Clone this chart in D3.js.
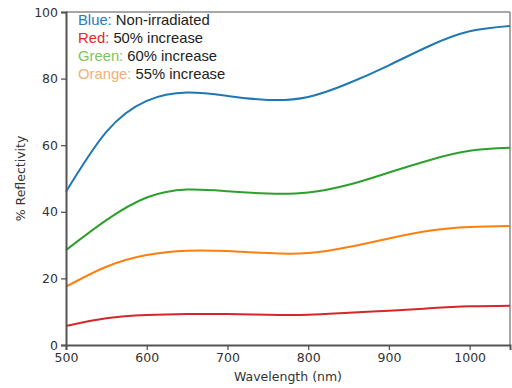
<!DOCTYPE html>
<html>
<head>
<meta charset="utf-8">
<script src="https://cdn.jsdelivr.net/npm/d3@7"></script>
<style>
  html, body { margin: 0; padding: 0; background: #fff; }
  svg { display: block; font-family: "DejaVu Sans", sans-serif; }
</style>
</head>
<body>
<svg id="svg" width="512" height="388"></svg>
<script>
// data
var wavelengths = [500, 550, 600, 650, 700, 750, 800, 850, 900, 950, 1000, 1050];
var blueValues   = [46, 64, 73.3, 75.8, 74.8, 73.6, 74.5, 78.6, 84, 89.8, 94.2, 95.8];
var greenValues  = [28.5, 37.5, 44.3, 46.7, 46.2, 45.5, 45.8, 48.1, 51.8, 55.5, 58.3, 59.2];
var orangeValues = [17.5, 23.5, 27, 28.3, 28.2, 27.6, 27.6, 29.4, 32, 34.3, 35.4, 35.7];
var redValues    = [5.7, 8.0, 9.0, 9.3, 9.3, 9.1, 9.1, 9.7, 10.3, 11, 11.6, 11.8];
var xTicks = [500, 600, 700, 800, 900, 1000];
var yTicks = [0, 20, 40, 60, 80, 100];
var legendLabels = ['Blue:', 'Red:', 'Green:', 'Orange:'];
var legendTexts = [' Non-irradiated', ' 50% increase', ' 60% increase', ' 55% increase'];

var svg = d3.select('#svg');
var margin = { top: 12, right: 2, bottom: 43, left: 66 };
var width = 512, height = 388;
var innerWidth = width - margin.left - margin.right;
var innerHeight = height - margin.top - margin.bottom;

var xScale = d3.scaleLinear().domain([500, 1050]).range([0, innerWidth]);
var yScale = d3.scaleLinear().domain([0, 100]).range([innerHeight, 0]);

var g = svg.append('g')
  .attr('transform', 'translate(' + margin.left + ',' + margin.top + ')');

// frame (top/right lighter)
g.append('line').attr('x1', 0).attr('x2', innerWidth).attr('y1', 0).attr('y2', 0)
  .attr('stroke', '#8a8a8a').attr('stroke-width', 1.5);
g.append('line').attr('x1', innerWidth).attr('x2', innerWidth).attr('y1', 0).attr('y2', innerHeight)
  .attr('stroke', '#8a8a8a').attr('stroke-width', 1.5);

var series = [
  { values: blueValues,   color: '#1f77b4' },
  { values: greenValues,  color: '#2ca02c' },
  { values: orangeValues, color: '#ff7f0e' },
  { values: redValues,    color: '#d62728' }
];

var line = d3.line()
  .x(function (d) { return xScale(d[0]); })
  .y(function (d) { return yScale(d[1]); })
  .curve(d3.curveNatural);

g.selectAll('.series')
  .data(series)
  .join('path')
  .attr('class', 'series')
  .attr('fill', 'none')
  .attr('stroke', function (d) { return d.color; })
  .attr('stroke-width', 2)
  .attr('d', function (d) { return line(wavelengths.map(function (w, i) { return [w, d.values[i]]; })); });

// axes
var xAxis = d3.axisBottom(xScale).tickValues(xTicks).tickFormat(d3.format('d')).tickSize(5).tickPadding(3);
var yAxis = d3.axisLeft(yScale).tickValues(yTicks).tickFormat(d3.format('d')).tickSize(5).tickPadding(3);

var gx = g.append('g').attr('transform', 'translate(0,' + innerHeight + ')').call(xAxis);
var gy = g.append('g').call(yAxis);

[gx, gy].forEach(function (a) {
  a.select('.domain').attr('stroke', '#555').attr('stroke-width', 2);
  a.selectAll('.tick line').attr('stroke', '#555').attr('stroke-width', 1.3);
  a.selectAll('.tick text').attr('fill', '#333').style('font-size', '12.5px')
    .style('font-family', '"DejaVu Sans", sans-serif');
});

g.append('text')
  .attr('x', innerWidth / 2)
  .attr('y', innerHeight + 36)
  .attr('text-anchor', 'middle')
  .attr('fill', '#333')
  .style('font-size', '12.5px')
  .text('Wavelength (nm)');

g.append('text')
  .attr('transform', 'rotate(-90)')
  .attr('x', -innerHeight / 2)
  .attr('y', -41)
  .attr('text-anchor', 'middle')
  .attr('fill', '#333')
  .style('font-size', '12.5px')
  .text('% Reflectivity');

// legend text block
var legendColors = ['#2b7bbd', '#e8262a', '#7cc55a', '#f4ae78'];
var legend = g.append('g').attr('transform', 'translate(12,13)');
legendLabels.forEach(function (lab, i) {
  var t = legend.append('text')
    .attr('x', 0)
    .attr('y', i * 18)
    .style('font-size', '14.8px')
    .style('font-family', '"Liberation Sans", Arial, sans-serif');
  t.append('tspan').attr('fill', legendColors[i]).text(lab);
  t.append('tspan').attr('fill', '#222').text(legendTexts[i]);
});
</script>
</body>
</html>
